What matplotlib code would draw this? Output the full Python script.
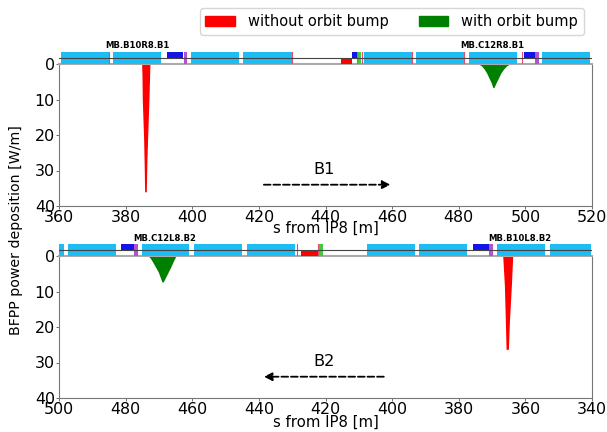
#Power deposition from BFPP along the beam line, two panels with a magnet strip on top

from matplotlib import pyplot as plt
from matplotlib.patches import Patch

#beam 1 deposition profiles
b1_red_s = [384.8, 384.9, 385.0, 385.4, 385.6, 385.7, 386.2, 386.4, 386.6, 387.0, 387.3]
b1_red_p = [0, 3, 10, 21, 30, 36, 36, 27, 21, 10, 0]
b1_green_s = [485.9, 486.8, 487.7, 488.4, 489.1, 489.8, 490.2, 490.6, 491.2, 491.9, 492.6, 493.4, 494.4, 495.4]
b1_green_p = [0, 0.5, 1.5, 2.6, 4.0, 5.4, 6.6, 6.6, 5.3, 4.0, 2.6, 1.5, 0.5, 0]

#beam 2 deposition profiles
b2_red_s = [363.8, 364.2, 364.8, 365.1, 365.8, 366.0, 366.3, 366.8]
b2_red_p = [0, 8.3, 18.6, 26.3, 26.3, 18.6, 8.3, 0]
b2_green_s = [464.9, 465.7, 466.4, 467.2, 468.0, 468.7, 469.1, 470.2, 471.1, 472.0, 472.6, 473.2]
b2_green_p = [0, 1.5, 3.0, 4.5, 6.0, 7.3, 7.3, 4.5, 3.0, 1.5, 0.6, 0]

#magnets along the beam line: start and end in metres
b1_dipoles = [(360.5, 374.9), (376.2, 390.5), (399.6, 414.0), (415.3, 429.9),
              (451.6, 465.9), (467.2, 481.6), (483.1, 497.4), (505.0, 519.5)]
b1_thin_red = [375.0, 429.9, 449.5, 451.0, 466.0, 481.7, 499.1]
b1_blue = [(392.4, 397.2), (448.0, 449.4), (499.6, 503.0)]
b1_purple = [(397.5, 398.5), (503.0, 504.2)]
b1_red_box = [(444.6, 447.9)]
b1_green_box = [(449.7, 450.7)]

b2_dipoles = [(498.6, 500.3), (483.0, 497.4), (460.9, 475.2), (445.0, 459.4), (429.3, 443.6),
              (393.1, 407.5), (377.5, 391.8), (354.0, 368.4), (340.2, 352.5)]
b2_thin_red = [428.6, 422.3]
b2_blue = [(477.5, 481.4), (370.8, 375.6)]
b2_purple = [(476.4, 477.5), (369.6, 370.8)]
b2_red_box = [(422.4, 427.4)]
b2_green_box = [(420.9, 422.1)]

W, H = 607.0, 432.0
dipole_col = '#1cbcf5'


def make_axes(left, right, top, bottom):
    return plt.axes([left / W, 1 - bottom / H, (right - left) / W, (bottom - top) / H])


def spans(ax, items, y0, y1, color):
    for a, b in items:
        ax.fill_between([a, b], y0, y1, color=color, lw=0)


def strip(box, xlim, dipoles, thin, blue, purple, red_box, green_box):
    st = make_axes(*box)
    st.set_xlim(xlim)
    st.set_ylim(-1, 1)
    st.axis('off')
    spans(st, dipoles, -1, 1, dipole_col)
    for x in thin:
        st.plot([x, x], [-1, 1], color='#e0506e', lw=0.8)
    spans(st, blue, 0, 1, '#1414e6')
    spans(st, purple, -1, 1, '#b650d2')
    spans(st, red_box, -1, 0, 'red')
    spans(st, green_box, -1, 1, '#3ccc3c')
    st.axhline(0, color='#444444', lw=0.8)
    return st


def panel(box, xlim, red, green, xticks, label_pad):
    ax = make_axes(*box)
    ax.fill_between(red[0], red[1], 0, color='red', lw=0)
    ax.fill_between(green[0], green[1], 0, color='green', lw=0)
    ax.set_xlim(xlim)
    ax.set_ylim(40, 0)
    ax.set_xticks(xticks)
    ax.set_yticks([0, 10, 20, 30, 40])
    ax.tick_params(labelsize=11.4, length=2, width=0.6, color='#555555', pad=1)
    ax.set_xlabel('s from IP8 [m]', fontsize=10.7, labelpad=label_pad)
    for side in ax.spines:
        ax.spines[side].set_linewidth(0.8)
        ax.spines[side].set_color('#777777')
    ax.spines['top'].set_color('#aaaaaa')
    ax.spines['top'].set_linewidth(1.5)
    return ax


fig = plt.figure(figsize=(W / 100, H / 100), dpi=100)

ax1 = panel((59, 592, 64, 206), (360, 520), (b1_red_s, b1_red_p), (b1_green_s, b1_green_p),
            [360, 380, 400, 420, 440, 460, 480, 500, 520], -3.5)
ax2 = panel((59, 592, 256, 398), (500, 340), (b2_red_s, b2_red_p), (b2_green_s, b2_green_p),
            [500, 480, 460, 440, 420, 400, 380, 360, 340], -2)

strip((59, 592, 52, 63.5), (360, 520), b1_dipoles, b1_thin_red, b1_blue, b1_purple, b1_red_box, b1_green_box)
strip((59, 592, 244, 255.5), (500, 340), b2_dipoles, b2_thin_red, b2_blue, b2_purple, b2_red_box, b2_green_box)

#direction arrows
ax1.annotate('', xy=(459.5, 34), xytext=(421.5, 34),
             arrowprops=dict(arrowstyle='-|>', linestyle='--', color='black', lw=1.3, shrinkA=0, shrinkB=0, mutation_scale=12))
ax1.text(439.6, 29.7, 'B1', fontsize=11.6, ha='center', va='center')
ax2.annotate('', xy=(438.5, 34), xytext=(402.5, 34),
             arrowprops=dict(arrowstyle='-|>', linestyle='--', color='black', lw=1.3, shrinkA=0, shrinkB=0, mutation_scale=12))
ax2.text(420.5, 29.7, 'B2', fontsize=11.6, ha='center', va='center')

#magnet names
fig.text(137 / W, 1 - 46 / H, 'MB.B10R8.B1', fontsize=6.1, fontweight='bold', ha='center', va='center')
fig.text(492 / W, 1 - 46 / H, 'MB.C12R8.B1', fontsize=6.1, fontweight='bold', ha='center', va='center')
fig.text(165 / W, 1 - 238.5 / H, 'MB.C12L8.B2', fontsize=6.1, fontweight='bold', ha='center', va='center')
fig.text(520 / W, 1 - 239 / H, 'MB.B10L8.B2', fontsize=6.1, fontweight='bold', ha='center', va='center')

fig.text(16 / W, 1 - 230 / H, 'BFPP power deposition [W/m]', fontsize=10.2, rotation=90, ha='center', va='center')

handles = [Patch(color='red', label='without orbit bump'), Patch(color='green', label='with orbit bump')]
fig.legend(handles=handles, ncol=2, fontsize=10.5, loc='upper right', bbox_to_anchor=(584 / W, 1 - 8 / H),
           handlelength=2, handletextpad=0.9, columnspacing=2.1, borderaxespad=0)

fig.savefig('out.png', dpi=100)
